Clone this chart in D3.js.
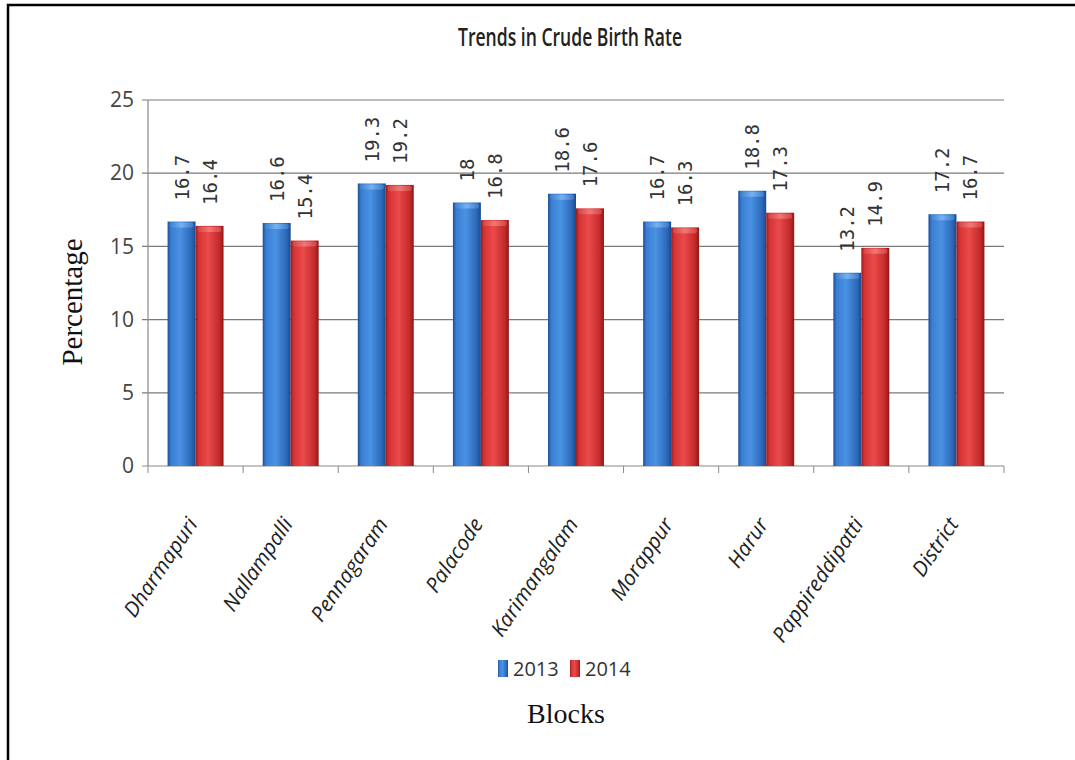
<!DOCTYPE html>
<html>
<head>
<meta charset="utf-8">
<script src="https://cdn.jsdelivr.net/npm/d3@7"></script>
<style>
  body { margin: 0; background: #fff; }
  svg { display: block; }
</style>
</head>
<body>
<svg width="1075" height="760"></svg>
<script>
// data
var blocks = ["Dharmapuri", "Nallampalli", "Pennagaram", "Palacode", "Karimangalam",
              "Morappur", "Harur", "Pappireddipatti", "District"];
var years = ["2013", "2014"];
var rate2013 = [16.7, 16.6, 19.3, 18, 18.6, 16.7, 18.8, 13.2, 17.2];
var rate2014 = [16.4, 15.4, 19.2, 16.8, 17.6, 16.3, 17.3, 14.9, 16.7];
var yTicks = [0, 5, 10, 15, 20, 25];

var rows = blocks.map(function (b, i) {
  return { block: b, values: [
    { year: "2013", v: rate2013[i] },
    { year: "2014", v: rate2014[i] } ] };
});

var svg = d3.select("svg"),
    width = +svg.attr("width"),
    height = +svg.attr("height");

var plot = { left: 148, right: 1004, top: 100, bottom: 466 };

// frame round the picture (left + top only are visible)
svg.append("path")
  .attr("d", "M8,760 L8,5 L1075,5")
  .attr("fill", "none")
  .attr("stroke", "#000")
  .attr("stroke-width", 2.5);

// gradients for the bevelled bars
var defs = svg.append("defs");
function grad(id, stops) {
  var g = defs.append("linearGradient").attr("id", id)
    .attr("x1", "0%").attr("x2", "100%").attr("y1", "0%").attr("y2", "0%");
  stops.forEach(function (s) {
    g.append("stop").attr("offset", s[0]).attr("stop-color", s[1]);
  });
}
grad("g2013", [["0%", "#1d4f94"], ["12%", "#3a7ed3"], ["45%", "#4a92e4"], ["85%", "#2d68b8"], ["100%", "#1b4a8c"]]);
grad("g2014", [["0%", "#9c1c1c"], ["12%", "#d63434"], ["45%", "#ea4a4a"], ["85%", "#c42a2a"], ["100%", "#8e1818"]]);
grad("c2013", [["0%", "#3f7fcf"], ["50%", "#7fb8f2"], ["100%", "#3f7fcf"]]);
grad("c2014", [["0%", "#d54848"], ["50%", "#f28080"], ["100%", "#d54848"]]);

var x0 = d3.scaleBand().domain(blocks).range([plot.left, plot.right]).paddingInner(0).paddingOuter(0);
var x1 = d3.scaleBand().domain(years).range([0, x0.bandwidth()]).paddingInner(0).paddingOuter(0.7);
var y = d3.scaleLinear().domain([0, 25]).range([plot.bottom, plot.top]);

// gridlines
svg.append("g")
  .selectAll("line")
  .data(yTicks)
  .enter().append("line")
  .attr("x1", plot.left - 6)
  .attr("x2", plot.right)
  .attr("y1", function (d) { return y(d); })
  .attr("y2", function (d) { return y(d); })
  .attr("stroke", function (d) { return d === 0 ? "#8a8a8a" : "#7a7a7a"; })
  .attr("stroke-width", 1.2);

// y axis line + labels
svg.append("line")
  .attr("x1", plot.left).attr("x2", plot.left)
  .attr("y1", plot.top).attr("y2", plot.bottom)
  .attr("stroke", "#8a8a8a").attr("stroke-width", 1.2);

var yAxis = d3.axisLeft(y).tickValues(yTicks).tickSize(0).tickPadding(14);
var gY = svg.append("g")
  .attr("transform", "translate(" + plot.left + ",0)")
  .call(yAxis);
gY.select(".domain").remove();
gY.selectAll("text")
  .attr("font-family", "'Liberation Sans Narrow', 'Open Sans', sans-serif")
  .attr("font-size", 21)
  .attr("fill", "#444");

// x axis ticks at category boundaries
var bounds = blocks.map(function (b) { return x0(b); }).concat([plot.right]);
svg.append("g")
  .selectAll("line")
  .data(bounds)
  .enter().append("line")
  .attr("x1", function (d) { return d; })
  .attr("x2", function (d) { return d; })
  .attr("y1", plot.bottom)
  .attr("y2", plot.bottom + 7)
  .attr("stroke", "#8a8a8a");

// bars
var group = svg.append("g").selectAll("g")
  .data(rows)
  .enter().append("g")
  .attr("transform", function (d) { return "translate(" + x0(d.block) + ",0)"; });

var bar = group.selectAll("g")
  .data(function (d) { return d.values; })
  .enter().append("g");

bar.append("rect")
  .attr("x", function (d) { return x1(d.year); })
  .attr("y", function (d) { return y(d.v); })
  .attr("width", x1.bandwidth())
  .attr("height", function (d) { return y(0) - y(d.v); })
  .attr("fill", function (d) { return "url(#g" + d.year + ")"; });

// light bevel on top of each bar
bar.append("rect")
  .attr("x", function (d) { return x1(d.year) + 2; })
  .attr("y", function (d) { return y(d.v) + 1; })
  .attr("width", x1.bandwidth() - 4)
  .attr("height", 5)
  .attr("rx", 2)
  .attr("fill", function (d) { return "url(#c" + d.year + ")"; })
  .attr("opacity", 0.85);

// value labels, rotated
bar.append("text")
  .attr("transform", function (d) {
    var cx = x1(d.year) + x1.bandwidth() / 2 + 7;
    return "translate(" + cx + "," + (y(d.v) - 21) + ") rotate(-90)";
  })
  .attr("font-family", "'DejaVu Sans Mono', 'Liberation Mono', monospace")
  .attr("font-size", 19)
  .attr("fill", "#333")
  .text(function (d) { return d.v; });

// category labels, slanted
svg.append("g")
  .selectAll("text")
  .data(blocks)
  .enter().append("text")
  .attr("transform", function (d) {
    var cx = x0(d) + x0.bandwidth() / 2 + 3;
    return "translate(" + cx + "," + (plot.bottom + 58) + ") rotate(-56)";
  })
  .attr("text-anchor", "end")
  .attr("font-family", "'Open Sans', sans-serif")
  .attr("font-style", "italic")
  .attr("font-size", 21)
  .attr("fill", "#222")
  .text(function (d) { return d; });

// title
svg.append("text")
  .attr("x", 570).attr("y", 46)
  .attr("text-anchor", "middle")
  .attr("font-family", "'Open Sans', sans-serif")
  .attr("font-weight", 600)
  .attr("font-size", 25)
  .attr("textLength", 224)
  .attr("lengthAdjust", "spacingAndGlyphs")
  .attr("fill", "#222")
  .text("Trends in Crude Birth Rate");

// axis titles
svg.append("text")
  .attr("transform", "translate(82,302) rotate(-90)")
  .attr("text-anchor", "middle")
  .attr("font-family", "'Liberation Serif', 'DejaVu Serif', serif")
  .attr("font-size", 29)
  .attr("fill", "#111")
  .text("Percentage");

svg.append("text")
  .attr("x", 566).attr("y", 723)
  .attr("text-anchor", "middle")
  .attr("font-family", "'Liberation Serif', 'DejaVu Serif', serif")
  .attr("font-size", 28)
  .attr("fill", "#111")
  .text("Blocks");

// legend
var legendX = [498, 570];
var legend = svg.append("g").selectAll("g")
  .data(years)
  .enter().append("g")
  .attr("transform", function (d, i) { return "translate(" + legendX[i] + ",660)"; });

legend.append("rect")
  .attr("width", 10).attr("height", 17)
  .attr("fill", function (d) { return "url(#g" + d + ")"; });

legend.append("text")
  .attr("x", 15).attr("y", 16)
  .attr("font-family", "'Liberation Sans Narrow', 'Open Sans', sans-serif")
  .attr("font-size", 20)
  .attr("fill", "#333")
  .text(function (d) { return d; });
</script>
</body>
</html>
